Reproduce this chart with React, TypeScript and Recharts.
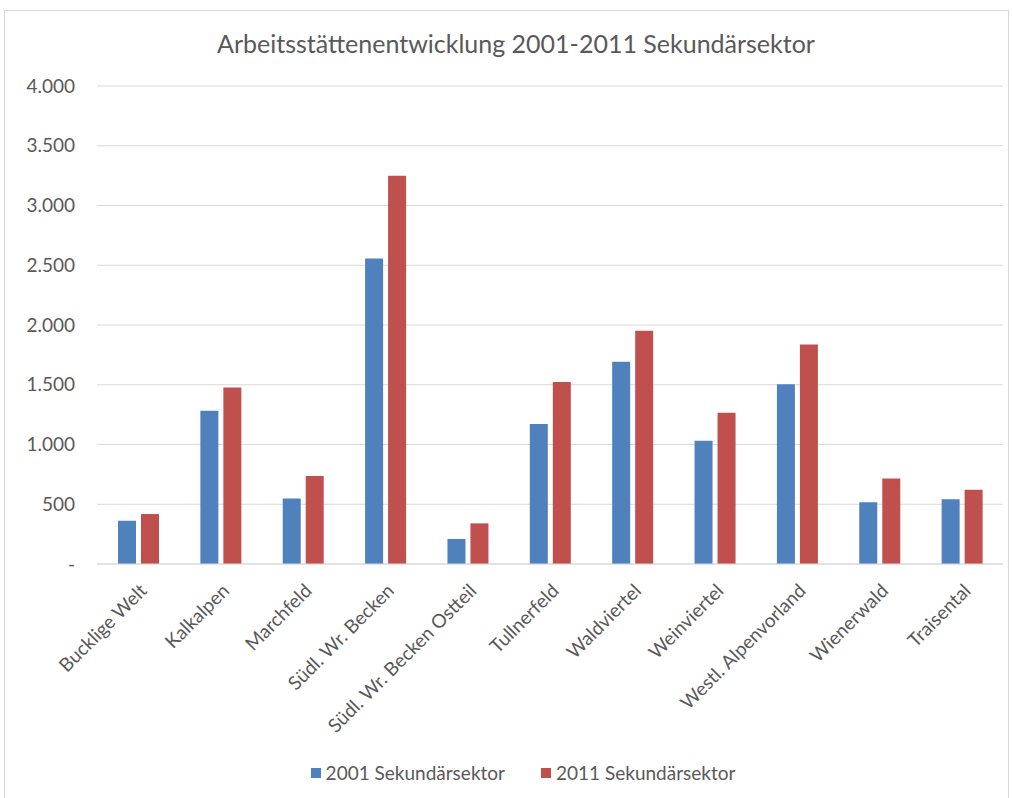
import React from "react";
import { BarChart, Bar, XAxis, YAxis, CartesianGrid } from "recharts";

const regions = [
  "Bucklige Welt",
  "Kalkalpen",
  "Marchfeld",
  "Südl. Wr. Becken",
  "Südl. Wr. Becken Ostteil",
  "Tullnerfeld",
  "Waldviertel",
  "Weinviertel",
  "Westl. Alpenvorland",
  "Wienerwald",
  "Traisental",
];
const values2001 = [362, 1282, 549, 2556, 209, 1171, 1692, 1031, 1505, 516, 541];
const values2011 = [418, 1477, 736, 3250, 340, 1522, 1951, 1265, 1837, 716, 621];
const yTicks = [0, 500, 1000, 1500, 2000, 2500, 3000, 3500, 4000];

const BLUE = "#4F81BD";
const RED = "#C0504D";
const TEXT = "#595959";
const FONT = "Lato, 'Open Sans', sans-serif";

const chartData = regions.map((name, i) => ({
  name,
  "2001 Sekundärsektor": values2001[i],
  "2011 Sekundärsektor": values2011[i],
}));

// Excel style: thousands with dot, zero as dash
const formatY = (v: number) =>
  v === 0 ? "-" : v.toLocaleString("de-DE").replace(/\s/g, ".");

const RotatedTick = ({ x, y, payload }: any) => (
  <text
    x={x + 10}
    y={y + 20}
    transform={`rotate(-45, ${x + 10}, ${y + 20})`}
    textAnchor="end"
    fill={TEXT}
    fontSize={19}
    fontFamily={FONT}
  >
    {payload.value}
  </text>
);

export default function App() {
  return (
    <div
      style={{
        position: "absolute",
        left: 0,
        top: 0,
        width: 1012,
        height: 798,
        background: "#fff",
        fontFamily: FONT,
      }}
    >
      {/* chart frame */}
      <div
        style={{
          position: "absolute",
          left: 4,
          top: 10,
          width: 1003,
          height: 800,
          border: "1px solid #D9D9D9",
        }}
      />
      <div
        style={{
          position: "absolute",
          top: 28,
          left: 0,
          width: 1032,
          textAlign: "center",
          fontSize: 25,
          color: TEXT,
        }}
      >
        Arbeitsstättenentwicklung 2001-2011 Sekundärsektor
      </div>
      <div style={{ position: "absolute", left: 0, top: 0 }}>
        <BarChart
          width={1012}
          height={798}
          data={chartData}
          margin={{ top: 86, right: 9, left: 0, bottom: 0 }}
          barSize={18}
          barGap={5}
        >
          <CartesianGrid vertical={false} stroke="#D9D9D9" />
          <XAxis
            dataKey="name"
            interval={0}
            height={234}
            tick={<RotatedTick />}
            tickLine={false}
            axisLine={{ stroke: "#D9D9D9" }}
          />
          <YAxis
            width={97}
            domain={[0, 4000]}
            ticks={yTicks}
            tickFormatter={formatY}
            axisLine={false}
            tickLine={false}
            tickMargin={16}
            tick={{ fill: TEXT, fontSize: 19, fontFamily: FONT }}
          />
          <Bar dataKey="2001 Sekundärsektor" fill={BLUE} isAnimationActive={false} />
          <Bar dataKey="2011 Sekundärsektor" fill={RED} isAnimationActive={false} />
        </BarChart>
      </div>
      {/* legend */}
      <div
        style={{
          position: "absolute",
          top: 762,
          left: 0,
          width: 1046,
          display: "flex",
          justifyContent: "center",
          fontSize: 19,
          color: TEXT,
          lineHeight: "22px",
        }}
      >
        {[
          { label: "2001 Sekundärsektor", color: BLUE },
          { label: "2011 Sekundärsektor", color: RED },
        ].map((item) => (
          <div
            key={item.label}
            style={{ display: "flex", alignItems: "center", margin: "0 18px" }}
          >
            <span
              style={{
                display: "inline-block",
                width: 10,
                height: 10,
                background: item.color,
                marginRight: 5,
              }}
            />
            {item.label}
          </div>
        ))}
      </div>
    </div>
  );
}
